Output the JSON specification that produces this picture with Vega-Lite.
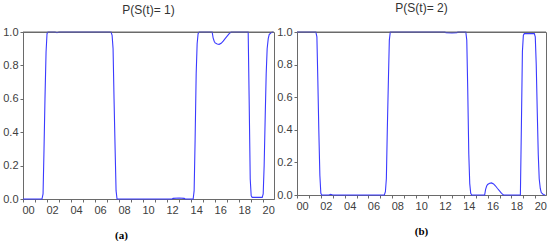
{
  "$schema": "https://vega.github.io/schema/vega-lite/v6.json",
  "padding": {"left": 2, "top": 1, "right": 0, "bottom": 0},
  "spacing": 0,
  "config": {
    "font": "Liberation Sans",
    "view": {"stroke": "#6a6a6a", "strokeWidth": 1},
    "axis": {"grid": false, "domainColor": "#6a6a6a", "tickColor": "#6a6a6a", "labelColor": "#404040", "labelFontSize": 11, "tickSize": 3, "labelPadding": 2, "labelFont": "Liberation Sans", "labelOverlap": false},
    "title": {"fontSize": 12, "fontWeight": "normal", "color": "#333333", "font": "Liberation Sans"}
  },
  "data": {"values": [
    {"t": 2000.0, "p1": 0, "p2": 1},
    {"t": 2001.58, "p1": 0, "p2": 1},
    {"t": 2001.67, "p1": 0.03, "p2": 0.97},
    {"t": 2001.75, "p1": 0.3, "p2": 0.7},
    {"t": 2001.83, "p1": 0.6, "p2": 0.4},
    {"t": 2001.92, "p1": 0.88, "p2": 0.12},
    {"t": 2002.0, "p1": 0.99, "p2": 0.01},
    {"t": 2002.08, "p1": 1.0, "p2": 0.0},
    {"t": 2002.67, "p1": 1.0, "p2": 0.0},
    {"t": 2002.83, "p1": 0.996, "p2": 0.004},
    {"t": 2003.0, "p1": 1.0, "p2": 0.0},
    {"t": 2007.33, "p1": 1.0, "p2": 0.0},
    {"t": 2007.42, "p1": 0.98, "p2": 0.02},
    {"t": 2007.5, "p1": 0.9, "p2": 0.1},
    {"t": 2007.58, "p1": 0.6, "p2": 0.4},
    {"t": 2007.67, "p1": 0.3, "p2": 0.7},
    {"t": 2007.75, "p1": 0.05, "p2": 0.95},
    {"t": 2007.83, "p1": 0.0, "p2": 1.0},
    {"t": 2012.42, "p1": 0.0, "p2": 1.0},
    {"t": 2012.5, "p1": 0.004, "p2": 0.996},
    {"t": 2013.0, "p1": 0.006, "p2": 0.994},
    {"t": 2013.42, "p1": 0.004, "p2": 0.996},
    {"t": 2013.5, "p1": 0.0, "p2": 1.0},
    {"t": 2014.17, "p1": 0.0, "p2": 1.0},
    {"t": 2014.25, "p1": 0.05, "p2": 0.95},
    {"t": 2014.33, "p1": 0.35, "p2": 0.65},
    {"t": 2014.42, "p1": 0.75, "p2": 0.25},
    {"t": 2014.5, "p1": 0.93, "p2": 0.07},
    {"t": 2014.58, "p1": 0.99, "p2": 0.01},
    {"t": 2014.67, "p1": 1.0, "p2": 0.0},
    {"t": 2015.75, "p1": 1.0, "p2": 0.0},
    {"t": 2015.83, "p1": 0.965, "p2": 0.035},
    {"t": 2015.92, "p1": 0.945, "p2": 0.055},
    {"t": 2016.0, "p1": 0.935, "p2": 0.065},
    {"t": 2016.17, "p1": 0.928, "p2": 0.072},
    {"t": 2016.33, "p1": 0.926, "p2": 0.074},
    {"t": 2016.5, "p1": 0.932, "p2": 0.068},
    {"t": 2016.67, "p1": 0.945, "p2": 0.055},
    {"t": 2016.83, "p1": 0.96, "p2": 0.04},
    {"t": 2017.0, "p1": 0.975, "p2": 0.025},
    {"t": 2017.17, "p1": 0.99, "p2": 0.01},
    {"t": 2017.33, "p1": 1.0, "p2": 0.0},
    {"t": 2018.75, "p1": 1.0, "p2": 0.0},
    {"t": 2018.83, "p1": 0.6, "p2": 0.4},
    {"t": 2018.92, "p1": 0.12, "p2": 0.88},
    {"t": 2019.0, "p1": 0.02, "p2": 0.98},
    {"t": 2019.08, "p1": 0.01, "p2": 0.99},
    {"t": 2019.92, "p1": 0.01, "p2": 0.99},
    {"t": 2020.0, "p1": 0.03, "p2": 0.97},
    {"t": 2020.08, "p1": 0.2, "p2": 0.8},
    {"t": 2020.17, "p1": 0.5, "p2": 0.5},
    {"t": 2020.25, "p1": 0.75, "p2": 0.25},
    {"t": 2020.33, "p1": 0.9, "p2": 0.1},
    {"t": 2020.42, "p1": 0.96, "p2": 0.04},
    {"t": 2020.5, "p1": 0.985, "p2": 0.015},
    {"t": 2020.67, "p1": 0.997, "p2": 0.003},
    {"t": 2020.83, "p1": 1.0, "p2": 0.0}
  ]},
  "hconcat": [
    {
      "title": {"text": "P(S(t)= 1)", "offset": 9},
      "width": 251,
      "height": 167,
      "layer": [
        {
          "mark": {"type": "line", "color": "#3a3aff", "strokeWidth": 1.1},
          "encoding": {
            "x": {"field": "t", "type": "quantitative",
                  "scale": {"domain": [2000, 2020.9], "nice": false, "zero": false},
                  "axis": {"values": [2000,2001,2002,2003,2004,2005,2006,2007,2008,2009,2010,2011,2012,2013,2014,2015,2016,2017,2018,2019,2020],
                           "labelExpr": "datum.value % 2 == 0 ? format(datum.value % 100, '02d') : ''",
                           "labelOffset": 5, "labelFlush": false, "labelBound": false,
                           "title": "(a)", "titleFont": "Liberation Serif", "titleFontWeight": "bold", "titleFontSize": 11, "titleColor": "#000000",
                           "titleX": 98, "titleY": 36, "titleBaseline": "middle", "titleAnchor": "start", "titleAlign": "center"}},
            "y": {"field": "p1", "type": "quantitative",
                  "scale": {"domain": [0, 1], "nice": false},
                  "axis": {"values": [0, 0.2, 0.4, 0.6, 0.8, 1.0], "format": ".1f", "title": null, "labelOverlap": false, "labelFlush": false, "labelBound": false}}
          }
        },
        {
          "data": {"values": [{}]},
          "mark": {"type": "rule", "color": "#6a6a6a", "strokeWidth": 1},
          "encoding": {"y": {"datum": 1, "type": "quantitative",
                  "scale": {"domain": [0, 1], "nice": false},
                  "axis": {"values": [0, 0.2, 0.4, 0.6, 0.8, 1.0], "format": ".1f", "title": null, "labelOverlap": false, "labelFlush": false, "labelBound": false}}}
        }
      ]
    },
    {
      "title": {"text": "P(S(t)= 2)", "offset": 11},
      "width": 249,
      "height": 163,
      "layer": [
        {
          "mark": {"type": "line", "color": "#3a3aff", "strokeWidth": 1.1},
          "encoding": {
            "x": {"field": "t", "type": "quantitative",
                  "scale": {"domain": [2000, 2020.9], "nice": false, "zero": false},
                  "axis": {"values": [2000,2001,2002,2003,2004,2005,2006,2007,2008,2009,2010,2011,2012,2013,2014,2015,2016,2017,2018,2019,2020],
                           "labelExpr": "datum.value % 2 == 0 ? format(datum.value % 100, '02d') : ''",
                           "labelOffset": 5, "labelFlush": false, "labelBound": false,
                           "title": "(b)", "titleFont": "Liberation Serif", "titleFontWeight": "bold", "titleFontSize": 11, "titleColor": "#000000",
                           "titleX": 124, "titleY": 36, "titleBaseline": "middle", "titleAnchor": "start", "titleAlign": "center"}},
            "y": {"field": "p2", "type": "quantitative",
                  "scale": {"domain": [0, 1], "nice": false},
                  "axis": {"values": [0, 0.2, 0.4, 0.6, 0.8, 1.0], "format": ".1f", "title": null, "labelOverlap": false, "labelFlush": false, "labelBound": false}}
          }
        },
        {
          "data": {"values": [{}]},
          "mark": {"type": "rule", "color": "#6a6a6a", "strokeWidth": 1},
          "encoding": {"y": {"datum": 1, "type": "quantitative",
                  "scale": {"domain": [0, 1], "nice": false},
                  "axis": {"values": [0, 0.2, 0.4, 0.6, 0.8, 1.0], "format": ".1f", "title": null, "labelOverlap": false, "labelFlush": false, "labelBound": false}}}
        }
      ]
    }
  ]
}
